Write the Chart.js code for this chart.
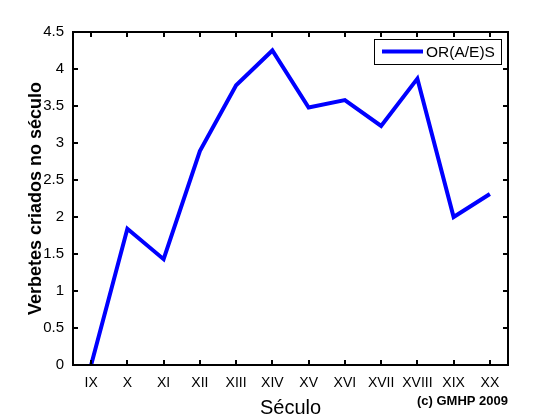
<!DOCTYPE html>
<html><head><meta charset="utf-8">
<script src="https://cdn.jsdelivr.net/npm/chart.js@4/dist/chart.umd.min.js"></script>
<style>html,body{margin:0;padding:0;background:#fff}canvas{display:block}</style>
</head><body>
<canvas id="c" width="560" height="420"></canvas>
<script>
const categories = ['IX','X','XI','XII','XIII','XIV','XV','XVI','XVII','XVIII','XIX','XX'];
const seriesLabel = 'OR(A/E)S';
const seriesValues = [0, 1.84, 1.43, 2.89, 3.78, 4.25, 3.48, 3.58, 3.23, 3.87, 2.0, 2.31];
const yTicks = [0, 0.5, 1, 1.5, 2, 2.5, 3, 3.5, 4, 4.5];
const xTitle = 'Século';
const yTitle = 'Verbetes criados no século';
const credit = '(c) GMHP 2009';

const FONT = '"Liberation Sans", Arial, sans-serif';

const framePlugin = {
  id: 'frame',
  afterDraw(chart) {
    const ctx = chart.ctx;
    const a = chart.chartArea;
    const xs = chart.scales.x, ys = chart.scales.y;
    ctx.save();
    ctx.strokeStyle = '#000';
    ctx.lineWidth = 2;
    ctx.strokeRect(a.left, a.top, a.right - a.left, a.bottom - a.top);
    const tl = 5;
    ctx.beginPath();
    categories.forEach((c, i) => {
      const px = Math.round(xs.getPixelForValue(i));
      ctx.moveTo(px, a.bottom); ctx.lineTo(px, a.bottom - tl);
      ctx.moveTo(px, a.top); ctx.lineTo(px, a.top + tl);
    });
    yTicks.forEach(v => {
      const py = Math.round(ys.getPixelForValue(v));
      ctx.moveTo(a.left, py); ctx.lineTo(a.left + tl, py);
      ctx.moveTo(a.right, py); ctx.lineTo(a.right - tl, py);
    });
    ctx.stroke();
    // legend
    const ds = chart.data.datasets[0];
    const lx = a.right - 134, ly = a.top + 7, lw = 127, lh = 25;
    ctx.fillStyle = '#fff';
    ctx.fillRect(lx, ly, lw, lh);
    ctx.strokeStyle = '#000';
    ctx.lineWidth = 1;
    ctx.strokeRect(lx + 0.5, ly + 0.5, lw, lh);
    ctx.strokeStyle = ds.borderColor;
    ctx.lineWidth = 4;
    ctx.beginPath();
    ctx.moveTo(lx + 8, ly + 12.5); ctx.lineTo(lx + 49, ly + 12.5);
    ctx.stroke();
    ctx.fillStyle = '#000';
    ctx.font = '15.5px ' + FONT;
    ctx.textBaseline = 'middle';
    ctx.textAlign = 'left';
    ctx.fillText(ds.label, lx + 52, ly + 13.5);
    // credit
    ctx.font = 'bold 13px ' + FONT;
    ctx.textAlign = 'right';
    ctx.textBaseline = 'alphabetic';
    ctx.fillText(credit, a.right, 405);
    ctx.restore();
  }
};

new Chart(document.getElementById('c'), {
  type: 'line',
  data: {
    labels: categories,
    datasets: [{
      label: seriesLabel,
      data: seriesValues,
      borderColor: '#0000ff',
      backgroundColor: '#0000ff',
      borderWidth: 4,
      pointRadius: 0,
      tension: 0,
      fill: false
    }]
  },
  options: {
    responsive: false,
    animation: false,
    devicePixelRatio: 1,
    layout: { padding: { top: 32, right: 52, left: 0, bottom: 0 } },
    plugins: { legend: { display: false }, tooltip: { enabled: false } },
    scales: {
      x: {
        type: 'category',
        offset: true,
        grid: { display: false, drawTicks: false },
        border: { display: false },
        ticks: { color: '#000', font: { family: FONT, size: 14 }, padding: 10, maxRotation: 0, autoSkip: false },
        title: { display: true, text: xTitle, color: '#000', font: { family: FONT, size: 20 }, padding: { top: 0, bottom: 0 } },
        afterFit(s) { s.height = 55; }
      },
      y: {
        min: 0, max: 4.5,
        afterBuildTicks(s) { s.ticks = yTicks.map(v => ({ value: v })); },
        grid: { display: false, drawTicks: false },
        border: { display: false },
        ticks: { color: '#000', font: { family: FONT, size: 15 }, padding: 9, callback: v => String(v) },
        title: { display: true, text: yTitle, color: '#000', font: { family: FONT, size: 18, weight: 'bold' }, padding: { top: 25, bottom: 0 } },
        afterFit(s) { s.width = 73; }
      }
    }
  },
  plugins: [framePlugin]
});
</script>
</body></html>
